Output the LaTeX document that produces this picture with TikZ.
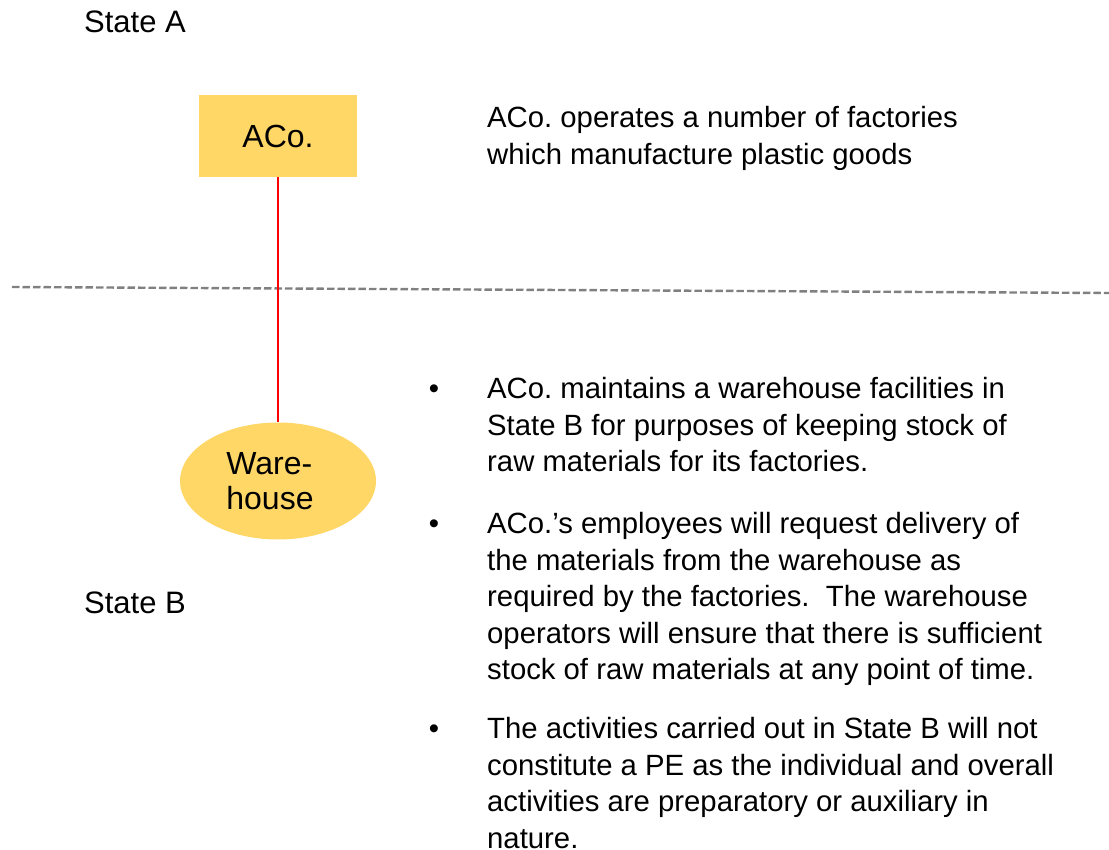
\documentclass[tikz,border=0pt]{standalone}
\usepackage{fontspec}
\setmainfont{Liberation Sans}
\usetikzlibrary{positioning,shapes.geometric}
\definecolor{boxyellow}{RGB}{254,215,102}
\definecolor{linegray}{RGB}{128,128,128}
\newcommand{\bul}{\makebox[0pt][r]{•\hspace{48pt}}}
\tikzset{
  txt/.style={font=\fontsize{29.3}{36.5}\selectfont},
  label/.style={font=\fontsize{31}{36}\selectfont,anchor=west,inner sep=0pt},
  entity/.style={font=\fontsize{32}{35}\selectfont,fill=boxyellow,minimum width=158pt,minimum height=82pt},
  para/.style={txt,align=left,anchor=north west,inner sep=0pt},
}
\begin{document}
\frenchspacing
\begin{tikzpicture}[x=1pt,y=-1pt]
\useasboundingbox (0,0) rectangle (1109,850);

% states
\node[label] (sa) at (84,22) {State A};
\node[label] (sb) at (84,603) {State B};

% border between the states
\coordinate (bl) at (12,287);
\coordinate (br) at (1109,293);
\draw[linegray,line width=2.4pt,dash pattern=on 7.5pt off 3pt] (bl) -- (br);

% company and warehouse
\node[entity] (aco) at (278,136) {ACo.};
\node[entity,ellipse,minimum width=196pt,minimum height=117pt,align=left] (wh) at (278,481) {Ware-\\house\hspace*{16pt}};
\draw[red,line width=1.5pt] (aco) -- (wh);

% notes
\node[para] (n0) at (487,106.5) {ACo. operates a number of factories\\which manufacture plastic goods};
\node[para] (n1) at (487,377.5) {\bul ACo. maintains a warehouse facilities in\\State B for purposes of keeping stock of\\raw materials for its factories.};
\node[para] (n2) at (487,512.5) {\bul ACo.'s employees will request delivery of\\the materials from the warehouse as\\required by the factories.\ \ The warehouse\\operators will ensure that there is sufficient\\stock of raw materials at any point of time.};
\node[para] (n3) at (487,717.5) {\bul The activities carried out in State B will not\\constitute a PE as the individual and overall\\activities are preparatory or auxiliary in\\nature.};
\end{tikzpicture}
\end{document}
